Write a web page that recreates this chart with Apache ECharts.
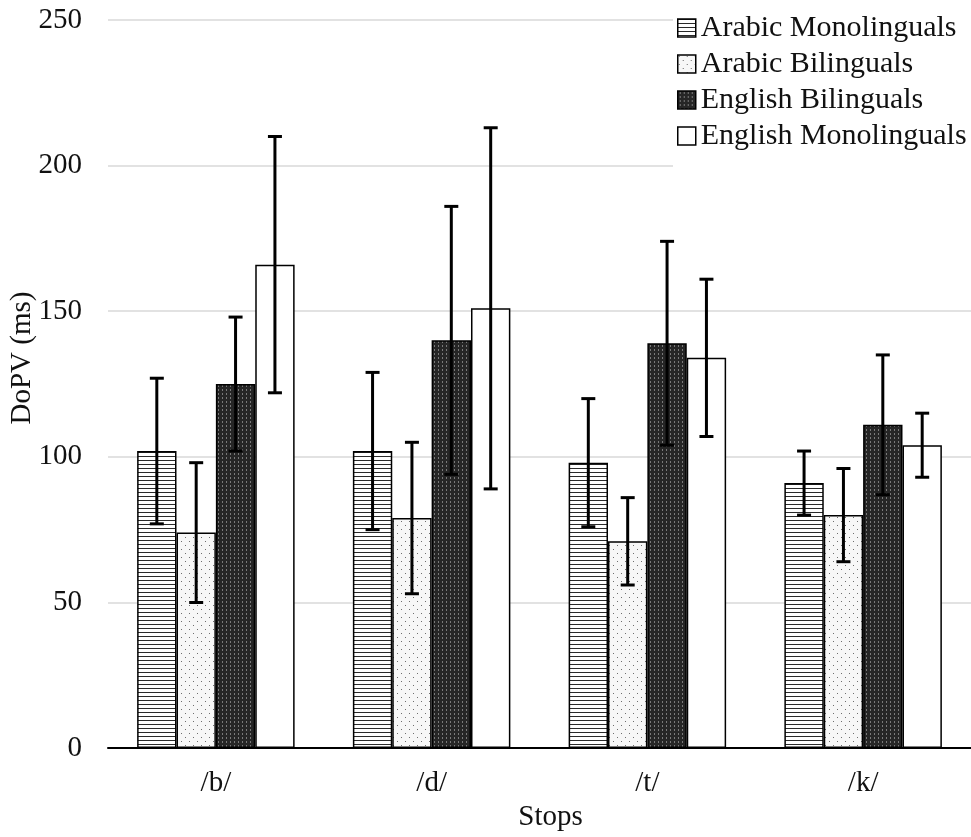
<!DOCTYPE html>
<html>
<head>
<meta charset="utf-8">
<title>DoPV by stop and group</title>
<script src="https://cdn.jsdelivr.net/npm/echarts@6/dist/echarts.min.js"></script>
<style>
  html, body { margin: 0; padding: 0; background: #fff; }
  #chart { width: 971px; height: 837px; }
</style>
</head>
<body>
<div id="chart"></div>
<script>
// Stop consonants on the x axis
const categories = ['/b/', '/d/', '/t/', '/k/'];

// Group names (legend order)
const groupNames = ['Arabic Monolinguals', 'Arabic Bilinguals', 'English Bilinguals', 'English Monolinguals'];

// Mean DoPV (ms) per stop
const arabicMono = [102, 102, 98, 91];
const arabicBi = [74, 79, 71, 80];
const englishBi = [125, 140, 139, 111];
const englishMono = [166, 151, 134, 104];

// Standard deviations (error bar half-lengths)
const arabicMonoSD = [25, 27, 22, 11];
const arabicBiSD = [24, 26, 15, 16];
const englishBiSD = [23, 46, 35, 24];
const englishMonoSD = [44, 62, 27, 11];

// Y-axis ticks
const yTicks = [0, 50, 100, 150, 200, 250];

const FONT = '"Liberation Serif", "Times New Roman", serif';
const CAT_GAP = 0.27;

// Fill patterns drawn on small canvases
function makePattern(w, h, draw) {
  const c = document.createElement('canvas');
  c.width = w; c.height = h;
  draw(c.getContext('2d'));
  return { image: c, repeat: 'repeat' };
}
const stripes = makePattern(4, 4, g => {
  g.fillStyle = '#ffffff'; g.fillRect(0, 0, 4, 4);
  g.fillStyle = '#2a2a2a'; g.fillRect(0, 0, 4, 1);
});
const dots = makePattern(8, 8, g => {
  g.fillStyle = '#f7f7f7'; g.fillRect(0, 0, 8, 8);
  g.fillStyle = '#6e6e6e';
  g.fillRect(1, 1, 1, 1);
  g.fillRect(5, 5, 1, 1);
});
const darkGrid = makePattern(4, 4, g => {
  g.fillStyle = '#262626'; g.fillRect(0, 0, 4, 4);
  g.fillStyle = '#7a7a7a'; g.fillRect(2, 1, 1, 2);
});
const plain = '#ffffff';

const means = [arabicMono, arabicBi, englishBi, englishMono];
const sds = [arabicMonoSD, arabicBiSD, englishBiSD, englishMonoSD];
const fills = [stripes, dots, darkGrid, plain];

const barSeries = groupNames.map((name, k) => ({
  name: name,
  type: 'bar',
  data: means[k],
  barGap: '0%',
  barCategoryGap: (CAT_GAP * 100) + '%',
  itemStyle: { color: fills[k], borderColor: '#000', borderWidth: 1.5 },
  emphasis: { disabled: true },
  z: 2
}));

// Error bars placed over the matching bar in each category
const errorSeries = groupNames.map((name, k) => ({
  type: 'custom',
  silent: true,
  z: 10,
  data: categories.map((c, i) => [i, means[k][i] - sds[k][i], means[k][i] + sds[k][i]]),
  renderItem: function (params, api) {
    const band = api.size([1, 0])[0];
    const bw = band * (1 - CAT_GAP) / groupNames.length;
    const cx = api.coord([api.value(0), 0])[0] + (k - (groupNames.length - 1) / 2) * bw;
    const lo = api.coord([api.value(0), api.value(1)])[1];
    const hi = api.coord([api.value(0), api.value(2)])[1];
    const cap = 7;
    const st = { stroke: '#000', lineWidth: 3 };
    return {
      type: 'group',
      children: [
        { type: 'line', shape: { x1: cx, y1: lo, x2: cx, y2: hi }, style: st },
        { type: 'line', shape: { x1: cx - cap, y1: hi, x2: cx + cap, y2: hi }, style: st },
        { type: 'line', shape: { x1: cx - cap, y1: lo, x2: cx + cap, y2: lo }, style: st }
      ]
    };
  }
}));

const chart = echarts.init(document.getElementById('chart'), null, { renderer: 'canvas' });
chart.setOption({
  backgroundColor: '#ffffff',
  animation: false,
  textStyle: { fontFamily: FONT, color: '#111' },
  grid: { left: 108, right: -6, top: 20, bottom: 75, containLabel: false },
  legend: {
    data: groupNames.map(n => ({ name: n, icon: 'rect' })),
    orient: 'vertical',
    left: 673,
    top: 5,
    padding: [8, 10, 26, 4],
    backgroundColor: '#ffffff',
    itemWidth: 18,
    itemHeight: 18,
    itemGap: 6,
    itemStyle: { borderColor: '#000', borderWidth: 1.5 },
    textStyle: { fontFamily: FONT, fontSize: 30, color: '#111', lineHeight: 30 },
    selectedMode: false
  },
  xAxis: {
    type: 'category',
    data: categories,
    name: 'Stops',
    nameLocation: 'middle',
    nameGap: 43,
    nameTextStyle: { fontFamily: FONT, fontSize: 29, color: '#111', padding: [0, 0, 0, 22] },
    axisLine: { show: true, lineStyle: { color: '#000', width: 2 } },
    axisTick: { show: false },
    axisLabel: { fontFamily: FONT, fontSize: 29, color: '#111', margin: 21 },
    splitLine: { show: false }
  },
  yAxis: {
    type: 'value',
    min: yTicks[0],
    max: yTicks[yTicks.length - 1],
    interval: yTicks[1] - yTicks[0],
    axisLine: { show: false },
    axisTick: { show: false },
    axisLabel: { fontFamily: FONT, fontSize: 29, color: '#111', margin: 26 },
    splitLine: { show: true, lineStyle: { color: '#d9d9d9', width: 1.5 } }
  },
  graphic: [{
    type: 'text',
    x: 22,
    y: 358,
    rotation: Math.PI / 2,
    style: {
      text: 'DoPV (ms)',
      fontFamily: FONT,
      fontSize: 29,
      fill: '#111',
      align: 'center',
      verticalAlign: 'middle'
    }
  }],
  series: barSeries.concat(errorSeries)
});
</script>
</body>
</html>
